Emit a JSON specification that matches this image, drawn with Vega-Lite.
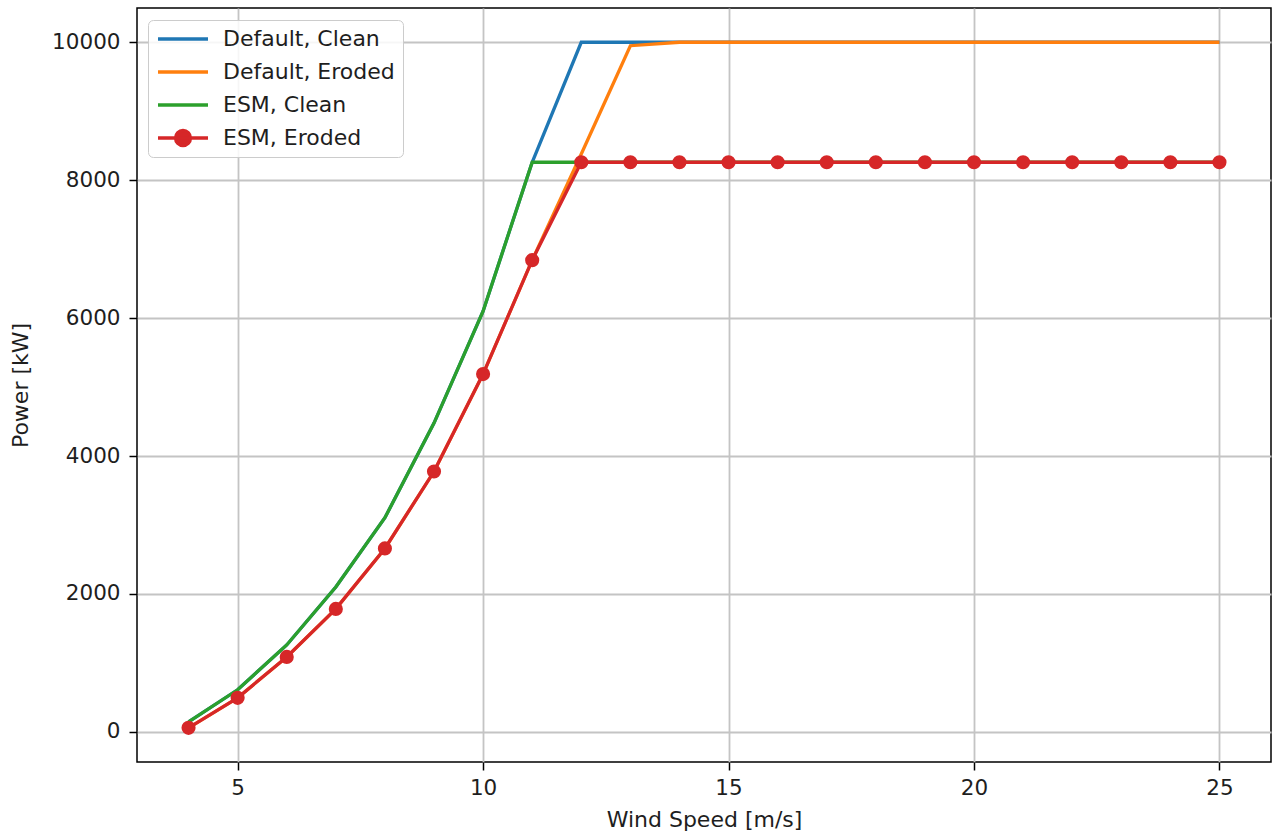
{
  "$schema": "https://vega.github.io/schema/vega-lite/v6.json",
  "autosize": {"type": "none"},
  "padding": {"left": 137, "top": 8, "right": 10, "bottom": 70},
  "width": 1134,
  "height": 754,
  "background": "white",
  "config": {
    "font": "DejaVu Sans",
    "view": {"stroke": "#000000", "strokeWidth": 1.5},
    "axis": {
      "domain": false,
      "grid": true,
      "gridColor": "#c4c4c4",
      "gridWidth": 1.8,
      "tickColor": "#000000",
      "tickWidth": 1.5,
      "tickSize": 8,
      "labelFont": "DejaVu Sans",
      "labelFontSize": 21.5,
      "labelColor": "#1e1e1e",
      "titleFont": "DejaVu Sans",
      "titleFontSize": 22,
      "titleFontWeight": "normal",
      "titleColor": "#1e1e1e"
    }
  },
  "data": {
    "values": [
      {"s": "Default, Clean", "ws": 4, "p": 145}, {"s": "Default, Clean", "ws": 5, "p": 610}, {"s": "Default, Clean", "ws": 6, "p": 1260}, {"s": "Default, Clean", "ws": 7, "p": 2100}, {"s": "Default, Clean", "ws": 8, "p": 3105}, {"s": "Default, Clean", "ws": 9, "p": 4478}, {"s": "Default, Clean", "ws": 10, "p": 6101}, {"s": "Default, Clean", "ws": 11, "p": 8260}, {"s": "Default, Clean", "ws": 12, "p": 10000}, {"s": "Default, Clean", "ws": 13, "p": 10000}, {"s": "Default, Clean", "ws": 14, "p": 10000}, {"s": "Default, Clean", "ws": 15, "p": 10000}, {"s": "Default, Clean", "ws": 16, "p": 10000}, {"s": "Default, Clean", "ws": 17, "p": 10000}, {"s": "Default, Clean", "ws": 18, "p": 10000}, {"s": "Default, Clean", "ws": 19, "p": 10000}, {"s": "Default, Clean", "ws": 20, "p": 10000}, {"s": "Default, Clean", "ws": 21, "p": 10000}, {"s": "Default, Clean", "ws": 22, "p": 10000}, {"s": "Default, Clean", "ws": 23, "p": 10000}, {"s": "Default, Clean", "ws": 24, "p": 10000}, {"s": "Default, Clean", "ws": 25, "p": 10000},
      {"s": "Default, Eroded", "ws": 4, "p": 58}, {"s": "Default, Eroded", "ws": 5, "p": 493}, {"s": "Default, Eroded", "ws": 6, "p": 1087}, {"s": "Default, Eroded", "ws": 7, "p": 1783}, {"s": "Default, Eroded", "ws": 8, "p": 2660}, {"s": "Default, Eroded", "ws": 9, "p": 3775}, {"s": "Default, Eroded", "ws": 10, "p": 5188}, {"s": "Default, Eroded", "ws": 11, "p": 6840}, {"s": "Default, Eroded", "ws": 12, "p": 8380}, {"s": "Default, Eroded", "ws": 13, "p": 9950}, {"s": "Default, Eroded", "ws": 14, "p": 10000}, {"s": "Default, Eroded", "ws": 15, "p": 10000}, {"s": "Default, Eroded", "ws": 16, "p": 10000}, {"s": "Default, Eroded", "ws": 17, "p": 10000}, {"s": "Default, Eroded", "ws": 18, "p": 10000}, {"s": "Default, Eroded", "ws": 19, "p": 10000}, {"s": "Default, Eroded", "ws": 20, "p": 10000}, {"s": "Default, Eroded", "ws": 21, "p": 10000}, {"s": "Default, Eroded", "ws": 22, "p": 10000}, {"s": "Default, Eroded", "ws": 23, "p": 10000}, {"s": "Default, Eroded", "ws": 24, "p": 10000}, {"s": "Default, Eroded", "ws": 25, "p": 10000},
      {"s": "ESM, Clean", "ws": 4, "p": 145}, {"s": "ESM, Clean", "ws": 5, "p": 610}, {"s": "ESM, Clean", "ws": 6, "p": 1260}, {"s": "ESM, Clean", "ws": 7, "p": 2100}, {"s": "ESM, Clean", "ws": 8, "p": 3105}, {"s": "ESM, Clean", "ws": 9, "p": 4478}, {"s": "ESM, Clean", "ws": 10, "p": 6101}, {"s": "ESM, Clean", "ws": 11, "p": 8260}, {"s": "ESM, Clean", "ws": 12, "p": 8260}, {"s": "ESM, Clean", "ws": 13, "p": 8260}, {"s": "ESM, Clean", "ws": 14, "p": 8260}, {"s": "ESM, Clean", "ws": 15, "p": 8260}, {"s": "ESM, Clean", "ws": 16, "p": 8260}, {"s": "ESM, Clean", "ws": 17, "p": 8260}, {"s": "ESM, Clean", "ws": 18, "p": 8260}, {"s": "ESM, Clean", "ws": 19, "p": 8260}, {"s": "ESM, Clean", "ws": 20, "p": 8260}, {"s": "ESM, Clean", "ws": 21, "p": 8260}, {"s": "ESM, Clean", "ws": 22, "p": 8260}, {"s": "ESM, Clean", "ws": 23, "p": 8260}, {"s": "ESM, Clean", "ws": 24, "p": 8260}, {"s": "ESM, Clean", "ws": 25, "p": 8260},
      {"s": "ESM, Eroded", "ws": 4, "p": 58}, {"s": "ESM, Eroded", "ws": 5, "p": 493}, {"s": "ESM, Eroded", "ws": 6, "p": 1087}, {"s": "ESM, Eroded", "ws": 7, "p": 1783}, {"s": "ESM, Eroded", "ws": 8, "p": 2660}, {"s": "ESM, Eroded", "ws": 9, "p": 3775}, {"s": "ESM, Eroded", "ws": 10, "p": 5188}, {"s": "ESM, Eroded", "ws": 11, "p": 6840}, {"s": "ESM, Eroded", "ws": 12, "p": 8260}, {"s": "ESM, Eroded", "ws": 13, "p": 8260}, {"s": "ESM, Eroded", "ws": 14, "p": 8260}, {"s": "ESM, Eroded", "ws": 15, "p": 8260}, {"s": "ESM, Eroded", "ws": 16, "p": 8260}, {"s": "ESM, Eroded", "ws": 17, "p": 8260}, {"s": "ESM, Eroded", "ws": 18, "p": 8260}, {"s": "ESM, Eroded", "ws": 19, "p": 8260}, {"s": "ESM, Eroded", "ws": 20, "p": 8260}, {"s": "ESM, Eroded", "ws": 21, "p": 8260}, {"s": "ESM, Eroded", "ws": 22, "p": 8260}, {"s": "ESM, Eroded", "ws": 23, "p": 8260}, {"s": "ESM, Eroded", "ws": 24, "p": 8260}, {"s": "ESM, Eroded", "ws": 25, "p": 8260}
    ]
  },
  "encoding": {
    "x": {
      "field": "ws", "type": "quantitative",
      "scale": {"domain": [2.95, 26.05], "nice": false, "zero": false},
      "axis": {"title": "Wind Speed [m/s]", "values": [5, 10, 15, 20, 25], "labelPadding": 7, "titlePadding": 11}
    },
    "y": {
      "field": "p", "type": "quantitative",
      "scale": {"domain": [-437, 10497], "nice": false, "zero": false},
      "axis": {"title": "Power [kW]", "values": [0, 2000, 4000, 6000, 8000, 10000], "format": "d", "labelPadding": 9, "titlePadding": 19}
    }
  },
  "layer": [
    {
      "mark": {"type": "line", "strokeWidth": 3.3, "clip": true},
      "encoding": {
        "color": {
          "field": "s", "type": "nominal",
          "scale": {
            "domain": ["Default, Clean", "Default, Eroded", "ESM, Clean", "ESM, Eroded"],
            "range": ["#1f77b4", "#ff7f0e", "#2ca02c", "#d62728"]
          },
          "legend": {
            "title": null,
            "orient": "none",
            "legendX": 11,
            "legendY": 12,
            "padding": 8,
            "fillColor": "rgba(255,255,255,0.85)",
            "strokeColor": "#cccccc",
            "cornerRadius": 5,
            "symbolType": "stroke",
            "symbolSize": 2500,
            "symbolStrokeWidth": 3.3,
            "clipHeight": 22,
            "rowPadding": 11,
            "labelOffset": 13,
            "labelFont": "DejaVu Sans",
            "labelFontSize": 22,
            "labelColor": "#1e1e1e",
            "labelLimit": 400,
            "encode": {
              "symbols": {
                "update": {
                  "shape": {"signal": "datum.value === 'ESM, Eroded' ? 'M-1,0H1M0.3,0A0.3,0.3,0,1,1,-0.3,0A0.3,0.3,0,1,1,0.3,0Z' : 'stroke'"},
                  "fill": {"signal": "datum.value === 'ESM, Eroded' ? '#d62728' : 'transparent'"}
                }
              }
            }
          }
        },
        "order": {"field": "ws", "type": "quantitative"}
      }
    },
    {
      "transform": [{"filter": "datum.s === 'ESM, Eroded'"}],
      "mark": {"type": "point", "filled": true, "size": 200, "opacity": 1, "color": "#d62728"}
    }
  ]
}
